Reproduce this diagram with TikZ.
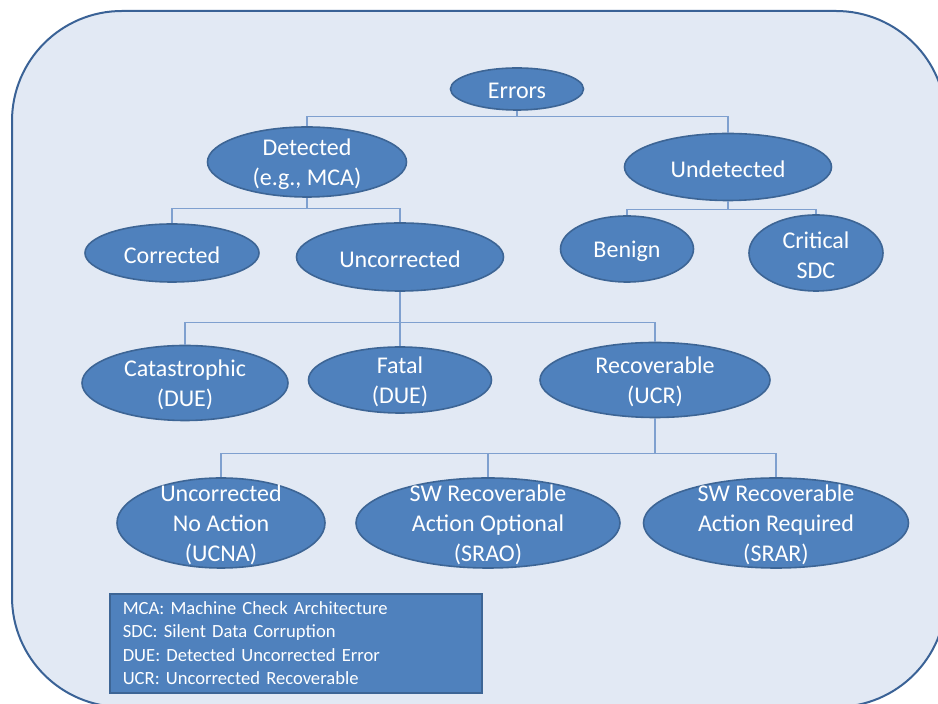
\documentclass[tikz,border=0pt]{standalone}
\usepackage{fontspec}
\setmainfont{Carlito}
\usetikzlibrary{shapes.geometric}

\definecolor{panel}{HTML}{E2E9F4}
\definecolor{panelrim}{HTML}{3A6296}
\definecolor{blobfill}{HTML}{4F81BD}
\definecolor{blobrim}{HTML}{3D6595}
\definecolor{wire}{HTML}{7FA0CF}

\begin{document}
\begin{tikzpicture}[x=0.5pt,y=-0.5pt]
	\tikzstyle{caption}=[text=white, align=center, inner sep=0pt, font=\fontsize{12}{15}\selectfont]
	\tikzstyle{class}=[ellipse, draw=blobrim, line width=0.8pt, fill=blobfill, inner sep=0pt, label={[caption, yshift=-1pt]center:{#1}}]
	\tikzstyle{branch}=[draw=wire, line width=0.6pt]
	\tikzstyle{key}=[rectangle, draw=blobrim, line width=0.8pt, fill=blobfill, text=white, align=left, inner xsep=6.5pt, font=\fontsize{9.3}{11.7}\selectfont]

	\useasboundingbox (0,0) rectangle (938,704);
	\clip (0,0) rectangle (938,704);
	\draw[panelrim, line width=1pt, fill=panel, rounded corners=55pt] (12,11) rectangle (946,707);

	% error classes
	\node [class=Errors, minimum width=66.5pt, minimum height=21pt] (errors) at (517,89) {};
	\node [class={Detected\\(e.g., MCA)}, minimum width=99.5pt, minimum height=35pt] (detected) at (307,162) {};
	\node [class=Undetected, minimum width=103.5pt, minimum height=33.5pt] (undetected) at (728,167) {};
	\node [class=Corrected, minimum width=87pt, minimum height=29pt] (corrected) at (172,253) {};
	\node [class=Uncorrected, minimum width=103.5pt, minimum height=34pt] (uncorrected) at (400,257) {};
	\node [class=Benign, minimum width=66.5pt, minimum height=33pt] (benign) at (627,249) {};
	\node [class={Critical\\SDC}, minimum width=67pt, minimum height=38pt] (critical) at (816,253) {};
	\node [class={Catastrophic\\(DUE)}, minimum width=103pt, minimum height=37.5pt] (catastrophic) at (185,383) {};
	\node [class={Fatal\\(DUE)}, minimum width=91.5pt, minimum height=33pt] (fatal) at (400,380) {};
	\node [class={Recoverable\\(UCR)}, minimum width=115pt, minimum height=37.5pt] (recoverable) at (655,380) {};
	\node [class={Uncorrected\\No Action\\(UCNA)}, minimum width=104pt, minimum height=45pt] (ucna) at (221,523) {};
	\node [class={SW Recoverable\\Action Optional\\(SRAO)}, minimum width=132pt, minimum height=45pt] (srao) at (488,523) {};
	\node [class={SW Recoverable\\Action Required\\(SRAR)}, minimum width=132.5pt, minimum height=45pt] (srar) at (776,523) {};

	% tree
	\path (errors.south) ++(0,6) coordinate (fork0);
	\draw[branch] (errors.south) -- (fork0);
	\foreach \kid in {detected,undetected}
		\draw[branch] (fork0) -| (\kid.north);

	\path (detected.south) ++(0,11) coordinate (fork1);
	\draw[branch] (detected.south) -- (fork1);
	\foreach \kid in {corrected,uncorrected}
		\draw[branch] (fork1) -| (\kid.north);

	\path (undetected.south) ++(0,8.5) coordinate (fork2);
	\draw[branch] (undetected.south) -- (fork2);
	\foreach \kid in {benign,critical}
		\draw[branch] (fork2) -| (\kid.north);

	\path (uncorrected.south) ++(0,31) coordinate (fork3);
	\draw[branch] (uncorrected.south) -- (fork3);
	\foreach \kid in {catastrophic,fatal,recoverable}
		\draw[branch] (fork3) -| (\kid.north);

	\path (recoverable.south) ++(0,35.5) coordinate (fork4);
	\draw[branch] (recoverable.south) -- (fork4);
	\foreach \kid in {ucna,srao,srar}
		\draw[branch] (fork4) -| (\kid.north);

	% abbreviations
	\node [key, anchor=north west, text width=173pt, minimum height=49.5pt] (legend) at (109,593)
		{MCA: Machine Check Architecture\\SDC: Silent Data Corruption\\DUE: Detected Uncorrected Error\\UCR: Uncorrected Recoverable};
\end{tikzpicture}
\end{document}
